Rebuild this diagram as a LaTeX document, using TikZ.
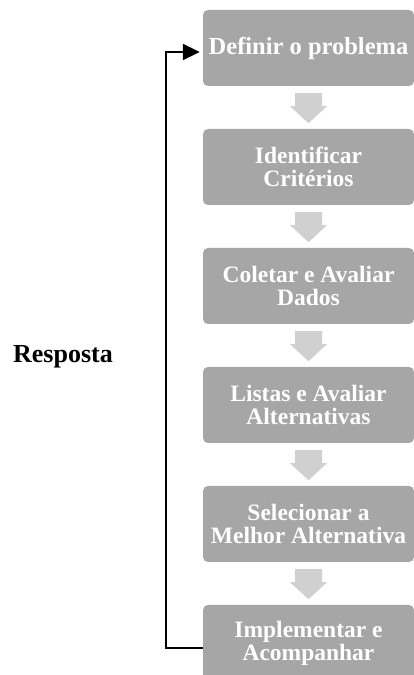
\documentclass[tikz,border=0pt]{standalone}
\usepackage{fontspec}
\setmainfont{Liberation Serif}
\usepackage{xcolor}
\usepackage{tikz}
\usetikzlibrary{arrows.meta,positioning}
\definecolor{dcBoxGray}{HTML}{A6A6A6}
\definecolor{dcArrowGray}{HTML}{D0D0D0}
\definecolor{dcInk}{HTML}{000000}
\tikzset{
  stepbox/.style={rectangle,rounded corners=5pt,
    minimum width=211pt,minimum height=76pt,inner sep=0pt,
    align=center,fill=dcBoxGray,draw=none,
    font=\fontsize{23.5pt}{23pt}\selectfont\bfseries,text=white},
  downarr/.style={fill=dcArrowGray,draw=none},
  loopline/.style={-{Triangle[length=17pt,width=16pt]},line width=2pt,color=dcInk},
  sidelbl/.style={font=\fontsize{26pt}{28pt}\selectfont\bfseries,text=dcInk},
}
\begin{document}
\begin{tikzpicture}[x=1pt,y=1pt,node distance=42.6pt]
  \useasboundingbox (0,0) rectangle (414,675);

  % decision steps
  \node[stepbox,font=\fontsize{24.5pt}{23pt}\selectfont\bfseries] (b1) at (308.5,627) {Definir o problema};
  \node[stepbox,below=of b1] (b2) {Identificar\\Critérios};
  \node[stepbox,below=of b2] (b3) {Coletar e Avaliar\\Dados};
  \node[stepbox,below=of b3] (b4) {Listas e Avaliar\\Alternativas};
  \node[stepbox,below=of b4] (b5) {Selecionar a\\Melhor Alternativa};
  \node[stepbox,below=of b5] (b6) {Implementar e\\Acompanhar};

  % block arrows between steps
  \foreach \a in {b1,b2,b3,b4,b5}{
    \fill[downarr] ([shift={(-13.5,-7)}]\a.south) -- ([shift={(13.5,-7)}]\a.south)
      -- ([shift={(13.5,-20)}]\a.south) -- ([shift={(18.5,-20)}]\a.south)
      -- ([shift={(0,-37)}]\a.south) -- ([shift={(-18.5,-20)}]\a.south)
      -- ([shift={(-13.5,-20)}]\a.south) -- cycle;
  }

  % feedback loop
  \draw[loopline] ([yshift=-5pt]b6.west) -- ++(-37,0)
    |- ([shift={(-3,-4)}]b1.west);
  \node[sidelbl] (resp) at (63,318) {Resposta};
\end{tikzpicture}
\end{document}
